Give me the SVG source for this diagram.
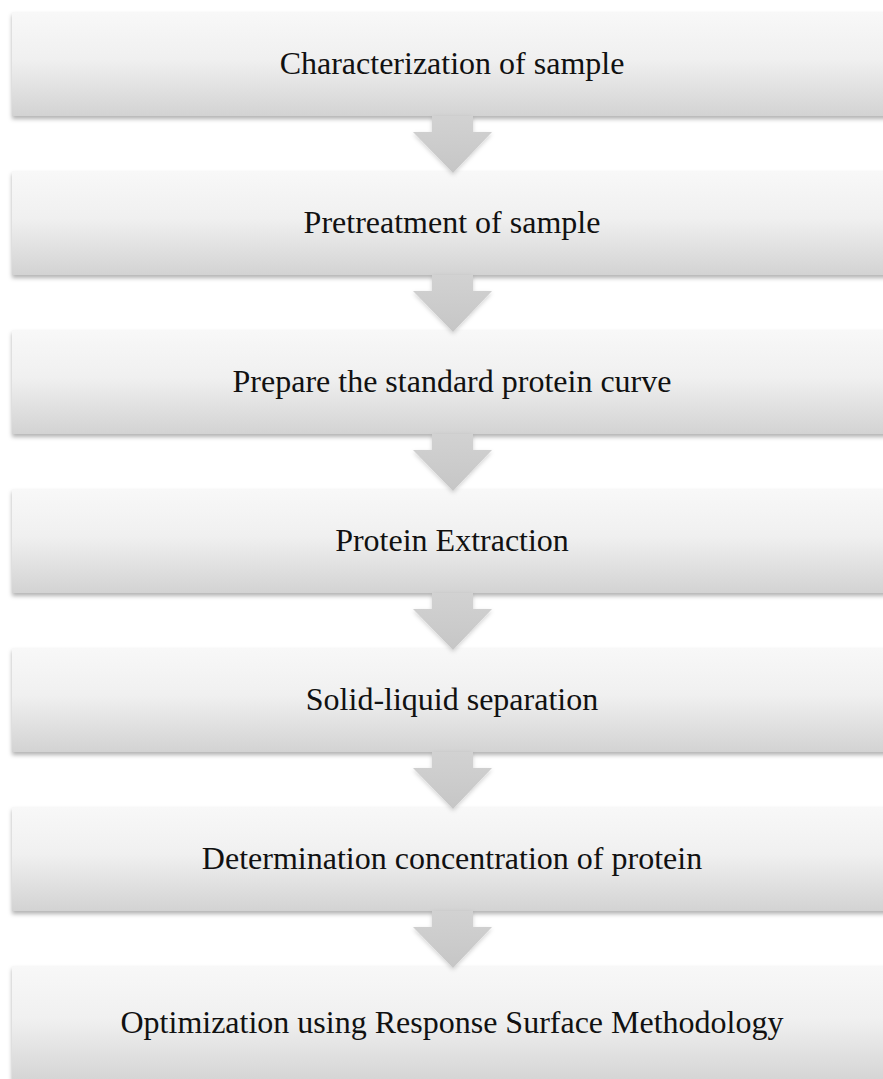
<svg xmlns="http://www.w3.org/2000/svg" width="883" height="1079" viewBox="0 0 883 1079">
<style>
.box{fill:url(#g);filter:url(#sh);}
.arr{fill:url(#ga);filter:url(#sh2);}
text{font-family:"Liberation Serif","Times New Roman",serif;font-size:32px;fill:#111;text-anchor:middle;}
</style>
<defs>
<linearGradient id="g" x1="0" y1="0" x2="0" y2="1">
<stop offset="0" stop-color="#f8f8f8"/>
<stop offset="0.45" stop-color="#f0f0f0"/>
<stop offset="1" stop-color="#d3d3d3"/>
</linearGradient>
<linearGradient id="ga" x1="0" y1="0" x2="0" y2="1">
<stop offset="0" stop-color="#d2d2d2"/>
<stop offset="1" stop-color="#c6c6c6"/>
</linearGradient>
<filter id="sh" x="-5%" y="-10%" width="110%" height="130%">
<feDropShadow dx="0" dy="3" stdDeviation="2" flood-color="#000" flood-opacity="0.3"/>
</filter>
<filter id="sh2" x="-20%" y="-20%" width="140%" height="150%">
<feDropShadow dx="0" dy="2" stdDeviation="2" flood-color="#000" flood-opacity="0.18"/>
</filter>
</defs>
<g id="n1"><rect class="box" x="12" y="12" width="885" height="104"/><text x="452" y="74">Characterization of sample</text></g>
<g id="n2"><rect class="box" x="12" y="171" width="885" height="104"/><text x="452" y="233">Pretreatment of sample</text></g>
<g id="n3"><rect class="box" x="12" y="330" width="885" height="104"/><text x="452" y="392">Prepare the standard protein curve</text></g>
<g id="n4"><rect class="box" x="12" y="489" width="885" height="104"/><text x="452" y="551">Protein Extraction</text></g>
<g id="n5"><rect class="box" x="12" y="648" width="885" height="104"/><text x="452" y="710">Solid-liquid separation</text></g>
<g id="n6"><rect class="box" x="12" y="807" width="885" height="104"/><text x="452" y="869">Determination concentration of protein</text></g>
<g id="n7"><rect class="box" x="12" y="966" width="885" height="118"/><text x="452" y="1033">Optimization using Response Surface Methodology</text></g>
<g id="connectors">
<path class="arr" d="M432,116 H473 V132 H492 L453,173 L413,132 H432 Z"/>
<path class="arr" d="M432,275 H473 V291 H492 L453,332 L413,291 H432 Z"/>
<path class="arr" d="M432,434 H473 V450 H492 L453,491 L413,450 H432 Z"/>
<path class="arr" d="M432,593 H473 V609 H492 L453,650 L413,609 H432 Z"/>
<path class="arr" d="M432,752 H473 V768 H492 L453,809 L413,768 H432 Z"/>
<path class="arr" d="M432,911 H473 V927 H492 L453,968 L413,927 H432 Z"/>
</g>
</svg>
